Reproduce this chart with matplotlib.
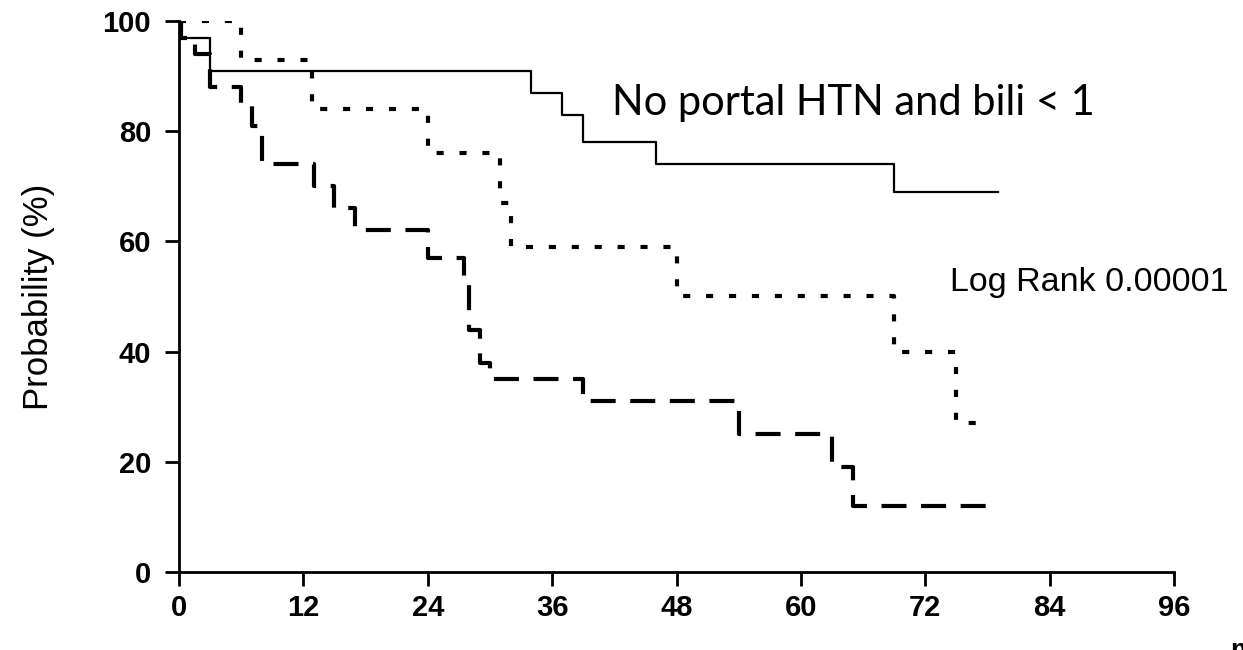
import matplotlib.pyplot as plt

# survival steps (months, % surviving) for the three groups
t_good = [0, 0.2, 3, 34, 37, 39, 46, 69, 79]
s_good = [100, 97, 91, 87, 83, 78, 74, 69, 69]

t_mid = [0, 6, 12.8, 24, 31, 32, 48, 69, 75, 77.5]
s_mid = [100, 93, 84, 76, 67, 59, 50, 40, 27, 27]

t_poor = [0, 0.2, 1.5, 3, 6, 7, 8, 13, 15, 17, 24, 27.5, 28, 29, 30, 39, 54, 63, 65, 79]
s_poor = [100, 97, 94, 88, 85, 81, 74, 70, 66, 62, 57, 53, 44, 38, 35, 31, 25, 19, 12, 12]

x_ticks = [0, 12, 24, 36, 48, 60, 72, 84, 96]
y_ticks = [0, 20, 40, 60, 80, 100]

fig = plt.figure(figsize=(12.43, 6.5), dpi=100)
ax = fig.add_axes([0.144, 0.12, 0.8005, 0.8477])

ax.step(t_good, s_good, where="post", color="black", lw=1.6)
ax.step(t_mid, s_mid, where="post", color="black", lw=3, ls=(0, (1.7, 3.8)))
ax.step(t_poor, s_poor, where="post", color="black", lw=3, ls=(0, (6, 3.5)))

ax.set_xlim(0, 96)
ax.set_ylim(0, 100)
ax.set_xticks(x_ticks)
ax.set_yticks(y_ticks)
for s in ["top", "right"]:
    ax.spines[s].set_visible(False)
for s in ["left", "bottom"]:
    ax.spines[s].set_linewidth(2)
ax.tick_params(axis="both", direction="out", length=10, width=2, pad=10)
for lab in ax.get_xticklabels() + ax.get_yticklabels():
    lab.set_fontfamily("Liberation Sans")
    lab.set_fontweight("bold")
    lab.set_fontsize(21)
ax.tick_params(axis="x", pad=6)

ax.set_ylabel("Probability (%)", fontsize=25, family="Liberation Sans", labelpad=34)

ax.text(41.8, 85.2, "No portal HTN and bili < 1", fontsize=30, family="Lato", va="center")
ax.text(74.4, 52.6, "Log Rank 0.00001", fontsize=24.5, family="Liberation Sans", va="center")

fig.text(0.9895, 0.0185, "months", fontsize=20, fontweight="bold", family="Liberation Sans", va="top")

fig.savefig("out.png", dpi=100)
